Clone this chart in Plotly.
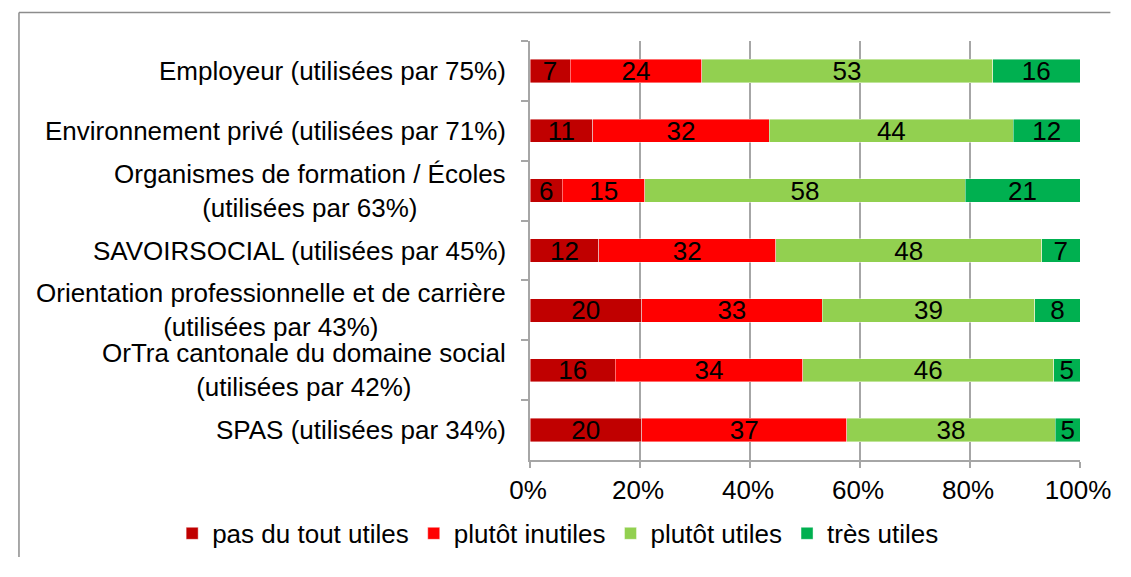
import plotly.graph_objects as go

categories = [
    "Employeur (utilisées par 75%)",
    "Environnement privé (utilisées par 71%)",
    "Organismes de formation / Écoles<br>(utilisées par 63%)",
    "SAVOIRSOCIAL (utilisées par 45%)",
    "Orientation professionnelle et de carrière<br>(utilisées par 43%)",
    "OrTra cantonale du domaine social<br>(utilisées par 42%)",
    "SPAS (utilisées par 34%)",
]
series_names = ["pas du tout utiles", "plutôt inutiles", "plutôt utiles", "très utiles"]
# segment widths (percent)
pas_du_tout = [7.3, 11.4, 5.9, 12.5, 20.3, 15.5, 20.3]
plutot_inutiles = [23.9, 32.1, 15.0, 32.2, 32.8, 34.1, 37.3]
plutot_utiles = [52.9, 44.4, 58.2, 48.3, 38.7, 45.6, 37.9]
tres_utiles = [15.9, 12.1, 20.9, 7.0, 8.2, 4.8, 4.5]
# data labels as printed
labels_pas = [7, 11, 6, 12, 20, 16, 20]
labels_inut = [24, 32, 15, 32, 33, 34, 37]
labels_plut = [53, 44, 58, 48, 39, 46, 38]
labels_tres = [16, 12, 21, 7, 8, 5, 5]
x_ticks = [0, 20, 40, 60, 80, 100]
x_ticktext = ["0%", "20%", "40%", "60%", "80%", "100%"]

colors = ["#C00000", "#FF0000", "#92D050", "#00B050"]
values = [pas_du_tout, plutot_inutiles, plutot_utiles, tres_utiles]
labels = [labels_pas, labels_inut, labels_plut, labels_tres]

FONT = "Liberation Sans, Arial, sans-serif"
FS = 26
W, H = 1115, 561
L, R, T, B = 522, 32, 33, 100
PW, PH = W - L - R, H - T - B

fig = go.Figure()
for name, vals, labs, col in zip(series_names, values, labels, colors):
    fig.add_trace(go.Bar(
        y=categories, x=vals, name=name, orientation="h",
        marker=dict(color=col, line=dict(color="rgba(255,255,255,0.6)", width=0.7)),
        text=[str(v) for v in labs], textposition="inside", textangle=0,
        insidetextanchor="middle",
        textfont=dict(color="black", size=FS, family=FONT),
        constraintext="none",
    ))

annotations = [
    dict(text=c, x=0, y=c, xref="paper", yref="y", xanchor="right",
         yanchor="middle", align="center", showarrow=False, xshift=-22,
         font=dict(size=FS, family=FONT, color="black"))
    for c in categories
]

# outer frame: only the top and left edges fall inside the picture
fx0 = (0.75 - L) / PW
fx1 = (W - 1 - L) / PW
fy_top = (PH + T - 4) / PH
fy_bot = -(B - 1) / PH
frame = [
    dict(type="line", xref="paper", yref="paper", x0=fx0, x1=fx1, y0=fy_top, y1=fy_top,
         line=dict(color="#8C8C8C", width=1.5), layer="below"),
    dict(type="line", xref="paper", yref="paper", x0=fx0, x1=fx0, y0=fy_top, y1=fy_bot,
         line=dict(color="#8C8C8C", width=1.5), layer="below"),
]

fig.update_layout(
    barmode="stack",
    bargap=0.61,
    width=W, height=H,
    margin=dict(l=L, r=R, t=T, b=B, pad=0),
    plot_bgcolor="white", paper_bgcolor="white",
    font=dict(family=FONT, size=FS, color="black"),
    uniformtext=dict(minsize=FS, mode="show"),
    showlegend=True,
    legend=dict(orientation="h", xref="paper", yref="paper",
                x=(157 - L) / PW, y=-(B - 1) / PH,
                xanchor="left", yanchor="bottom",
                font=dict(size=FS), itemwidth=30, traceorder="normal"),
    xaxis=dict(range=[0, 100], tickmode="array", tickvals=x_ticks, ticktext=x_ticktext,
               showgrid=True, gridcolor="#A6A6A6", gridwidth=1.5,
               showline=True, linecolor="#A6A6A6", linewidth=1.5,
               ticks="outside", ticklen=6, tickcolor="#A6A6A6", tickwidth=1.5,
               ticklabeloverflow="allow", ticklabelshift=-2,
               zeroline=False, fixedrange=True),
    yaxis=dict(autorange="reversed", showgrid=False, showticklabels=False,
               showline=True, linecolor="#A6A6A6", linewidth=1.5,
               ticks="outside", tickson="boundaries", ticklen=7,
               tickcolor="#A6A6A6", tickwidth=1.5),
    annotations=annotations,
    shapes=frame,
)

fig.write_html("out.html")
